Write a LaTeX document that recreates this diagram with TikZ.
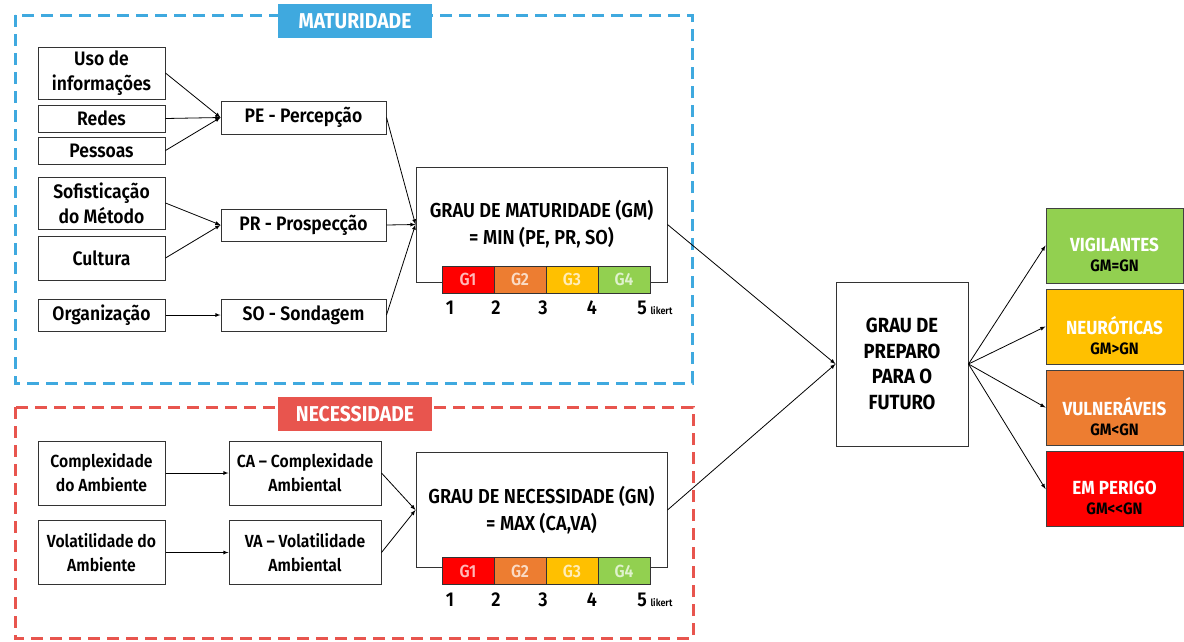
\documentclass[tikz,border=0pt]{standalone}
\usepackage{fontspec}
\setmainfont{Fira Sans}[UprightFont={* SemiBold},BoldFont={* Bold},FakeStretch=0.9]
\definecolor{cBlue}{HTML}{3FA9DF}
\definecolor{cRed}{HTML}{E8554E}
\definecolor{cG1}{HTML}{FF0000}
\definecolor{cG2}{HTML}{ED7D31}
\definecolor{cG3}{HTML}{FFC000}
\definecolor{cG4}{HTML}{92D050}
\begin{document}
\begin{tikzpicture}[x=1pt,y=-1pt, line width=0.8pt,
	box/.style={draw=black!80, line width=1pt, inner sep=0pt, align=center, font=\fontsize{19.5}{25}\selectfont},
	sbox/.style={box, minimum width=127pt, font=\fontsize{17.5}{24}\selectfont},
	seg/.style={draw=black!80, line width=1pt, minimum width=52pt, minimum height=27pt, inner sep=0pt, font=\fontsize{17.5}{18}\selectfont},
	num/.style={inner sep=0pt, font=\fontsize{20}{20}\selectfont},
	tag/.style={minimum width=154pt, minimum height=34pt, inner sep=0pt, text=white, font=\bfseries\fontsize{21.5}{20}\selectfont},
	frame/.style={line width=3pt, dash pattern=on 12pt off 7pt},
	res/.style={draw=black!75, line width=1pt, minimum width=137pt, minimum height=75pt, inner sep=0pt},
	restxt/.style={align=center, inner sep=0pt, font=\bfseries\fontsize{16.5}{20}\selectfont}]%
	\useasboundingbox (0,0) rectangle (1184,641);
	% frames
	\draw[frame, cBlue] (15,15) rectangle (692,383);
	\node[tag, fill=cBlue] (tmat) at (355,21) {MATURIDADE};
	\draw[frame, cRed] (15,407) rectangle (693,638);
	\node[tag, fill=cRed] (tnec) at (355,414) {NECESSIDADE};
	% maturidade
	\node[box, minimum width=127pt, minimum height=52pt] (uso) at (101.5,73) {Uso de\\informações};
	\node[box, minimum width=127pt, minimum height=27pt] (red) at (101.5,118.5) {Redes};
	\node[box, minimum width=127pt, minimum height=27pt] (pes) at (101.5,150.5) {Pessoas};
	\node[box, minimum width=127pt, minimum height=52pt] (sof) at (101.5,203) {Sofisticação\\do Método};
	\node[box, minimum width=127pt, minimum height=44pt] (cul) at (101.5,258) {Cultura};
	\node[box, minimum width=127pt, minimum height=32pt] (org) at (101.5,315) {Organização};
	\node[box, minimum width=165pt, minimum height=33pt] (pe) at (303.5,117.5) {PE - Percepção};
	\node[box, minimum width=165pt, minimum height=32pt] (pr) at (303.5,225) {PR - Prospecção};
	\node[box, minimum width=165pt, minimum height=32pt] (so) at (303.5,315) {SO - Sondagem};
	\node[box, minimum width=251pt, minimum height=115pt, font=\fontsize{20.2}{27}\selectfont] (gm) at (541.5,224.5) {GRAU DE MATURIDADE (GM)\\= MIN (PE, PR, SO)};
	\foreach \c [count=\i] in {cG1,cG2,cG3,cG4}
		\node[seg, fill=\c, text=white!72!\c] (gm\i) at ({416+52*\i},279.5) {G\i};
	\foreach \x [count=\i] in {450,496,543,592,642}
		\node[num] (gmn\i) at (\x,308) {\i};
	\node[anchor=base west, inner sep=0pt, font=\fontsize{10}{10}\selectfont] (gmlk) at ([xshift=3pt]gmn5.base east) {likert};
	\draw[-latex] (uso.east) -- (pe.west);
	\draw[-latex] (red.east) -- (pe.west);
	\draw[-latex] (pes.east) -- (pe.west);
	\draw[-latex] (sof.east) -- (pr.west);
	\draw[-latex] (cul.east) -- (pr.west);
	\draw[-latex] (org.east) -- (so.west);
	\draw[-latex] (pe.east) -- (gm.west);
	\draw[-latex] (pr.east) -- (gm.west);
	\draw[-latex] (so.east) -- (gm.west);
	% necessidade
	\node[sbox, minimum height=64pt] (cmp) at (101.5,473) {Complexidade\\do Ambiente};
	\node[sbox, minimum height=64pt] (vol) at (101.5,552.5) {Volatilidade do\\Ambiente};
	\node[sbox, minimum width=152pt, minimum height=64pt] (ca) at (305,473) {CA – Complexidade\\Ambiental};
	\node[sbox, minimum width=152pt, minimum height=64pt] (va) at (305,552.5) {VA – Volatilidade\\Ambiental};
	\node[box, minimum width=251pt, minimum height=115pt, font=\fontsize{20.2}{27}\selectfont] (gn) at (541.5,510) {GRAU DE NECESSIDADE (GN)\\= MAX (CA,VA)};
	\foreach \c [count=\i] in {cG1,cG2,cG3,cG4}
		\node[seg, fill=\c, text=white!72!\c] (gn\i) at ({416+52*\i},571) {G\i};
	\foreach \x [count=\i] in {450,496,543,592,642}
		\node[num] (gnn\i) at (\x,600) {\i};
	\node[anchor=base west, inner sep=0pt, font=\fontsize{10}{10}\selectfont] (gnlk) at ([xshift=3pt]gnn5.base east) {likert};
	\draw[-latex] (cmp.east) -- (ca.west);
	\draw[-latex] (vol.east) -- (va.west);
	\draw[-latex] (ca.east) -- (gn.west);
	\draw[-latex] (va.east) -- (gn.west);
	% preparo
	\node[box, minimum width=132pt, minimum height=164pt, font=\bfseries\fontsize{20.5}{25.5}\selectfont] (gpf) at (902,364) {GRAU DE\\PREPARO\\PARA O\\FUTURO};
	\draw[-latex] (gm.east) -- (gpf.west);
	\draw[-latex] (gn.east) -- (gpf.west);
	\node[res, fill=cG4] (vig) at (1114.5,245.5) {};
	\node[res, fill=cG3] (neu) at (1114.5,326.5) {};
	\node[res, fill=cG2] (vul) at (1114.5,407.5) {};
	\node[res, fill=cG1] (per) at (1114.5,489) {};
	\node[restxt] (tvig) at ([yshift=-9pt]vig.center) {\textcolor{white}{\fontsize{19}{21}\selectfont VIGILANTES}\\GM=GN};
	\node[restxt] (tneu) at ([yshift=-9pt]neu.center) {\textcolor{white}{\fontsize{19}{21}\selectfont NEURÓTICAS}\\GM>GN};
	\node[restxt] (tvul) at ([yshift=-9pt]vul.center) {\textcolor{white}{\fontsize{19}{21}\selectfont VULNERÁVEIS}\\GM<GN};
	\node[restxt] (tper) at ([yshift=-9pt]per.center) {\textcolor{white}{\fontsize{19}{21}\selectfont EM PERIGO}\\GM<\kern0pt<GN};
	\draw[-latex] (gpf.east) -- (vig.west);
	\draw[-latex] (gpf.east) -- (neu.west);
	\draw[-latex] (gpf.east) -- (vul.west);
	\draw[-latex] (gpf.east) -- (per.west);
\end{tikzpicture}
\end{document}
